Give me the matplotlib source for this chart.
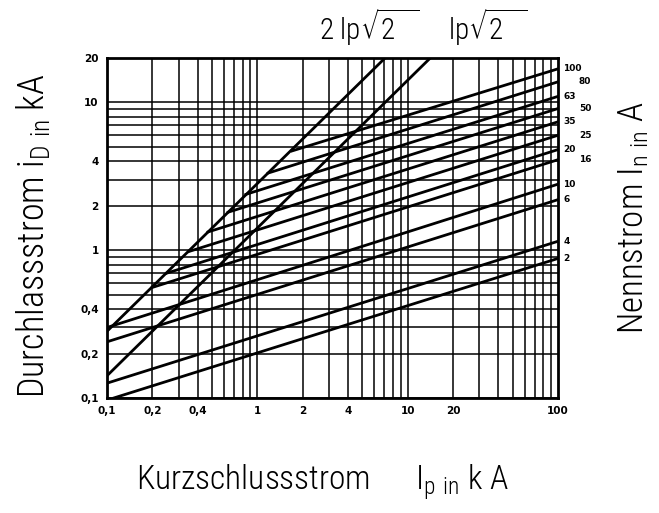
import matplotlib.pyplot as plt
import numpy as np

# Durchlassstrom-Diagramm (log-log), Werte
x_ticks = [0.1, 0.2, 0.4, 1, 2, 4, 10, 20, 100]
x_tick_labels = ["0,1", "0,2", "0,4", "1", "2", "4", "10", "20", "100"]
y_ticks = [0.1, 0.2, 0.4, 1, 2, 4, 10, 20]
y_tick_labels = ["0,1", "0,2", "0,4", "1", "2", "4", "10", "20"]

# Stosskurzschlussstrom-Geraden: Faktor * Ip
peak_factors = [2 * np.sqrt(2), np.sqrt(2)]
peak_names = [r"2 $\mathregular{lp}\sqrt{\mathregular{2}\ \ }$",
              r"$\mathregular{lp}\sqrt{\mathregular{2}\ \ }$"]

# Sicherungs-Kennlinien: Nennstrom, Anfangspunkt (Ip, iD), Endpunkt bei Ip = 100 kA
ratings = ["100", "80", "63", "50", "35", "25", "20", "16", "10", "6", "4", "2"]
start_ip = [1.7, 1.18, 0.84, 0.64, 0.47, 0.35, 0.25, 0.2, 0.1, 0.1, 0.1, 0.111]
start_id = [4.7, 3.33, 2.39, 1.81, 1.33, 0.98, 0.70, 0.56, 0.30, 0.24, 0.126, 0.1]
end_id = [16.9, 13.8, 11.0, 9.1, 7.4, 6.0, 4.8, 4.1, 2.8, 2.2, 1.15, 0.88]

label_font = ["Liberation Sans Narrow", "Roboto Condensed", "DejaVu Sans Condensed", "Lato"]

fig = plt.figure(figsize=(6.59, 5.13), dpi=100)
ax = fig.add_axes([0.1624, 0.2242, 0.6843, 0.6627])
ax.set_xscale("log")
ax.set_yscale("log")
ax.set_xlim(0.1, 100)
ax.set_ylim(0.1, 20)

# Gitter (horizontal nur bis 10)
for dec in [0.1, 1, 10]:
    for m in range(1, 10):
        ax.axvline(dec * m, color="black", lw=1.1, zorder=1)
for dec in [0.1, 1]:
    for m in range(1, 10):
        ax.axhline(dec * m, color="black", lw=1.1, zorder=1)
ax.axhline(10, color="black", lw=1.1, zorder=1)

# Stossstrom-Geraden
ip = np.array([0.1, 100])
for f in peak_factors:
    ax.plot(ip, f * ip, color="black", lw=2.0, zorder=3)

# Sicherungs-Kennlinien
for xs, ys, ye in zip(start_ip, start_id, end_id):
    ax.plot([xs, 100], [ys, ye], color="black", lw=2.0, zorder=3)

# Beschriftung der Nennstroeme rechts (versetzt)
for name, ye in zip(ratings, end_id):
    dx = 15 if name in ["80", "50", "25", "16"] else 4
    ax.annotate(name, (100, ye), xytext=(dx, 0), textcoords="offset points",
                fontsize=6.5, fontweight="bold", va="center", ha="left",
                annotation_clip=False)

ax.set_xticks(x_ticks)
ax.set_xticklabels(x_tick_labels, fontsize=7.5, fontweight="bold")
ax.set_yticks(y_ticks)
ax.set_yticklabels(y_tick_labels, fontsize=7.5, fontweight="bold")
ax.minorticks_off()
ax.tick_params(length=0, pad=6)
for s in ax.spines.values():
    s.set_linewidth(2)

# Bezeichnung der Stossstrom-Geraden oben
fig.text(0.56, 0.947, peak_names[0], fontsize=21, ha="center", va="center",
         family=label_font, fontweight="light")
fig.text(0.74, 0.947, peak_names[1], fontsize=21, ha="center", va="center",
         family=label_font, fontweight="light")

fig.text(0.05, 0.54, r"Durchlassstrom $\mathregular{i_{D\ in}}$ kA", rotation=90,
         fontsize=26, ha="center", va="center", family=label_font, fontweight="light")
fig.text(0.962, 0.575, r"Nennstrom $\mathregular{I_{n\ in}}$ A", rotation=90,
         fontsize=25, ha="center", va="center", family=label_font, fontweight="light")
fig.text(0.49, 0.06, r"Kurzschlussstrom      $\mathregular{I_{p\ in}}$ k A",
         fontsize=24, ha="center", va="center", family=label_font, fontweight="light")

fig.savefig("out.png", dpi=100)
